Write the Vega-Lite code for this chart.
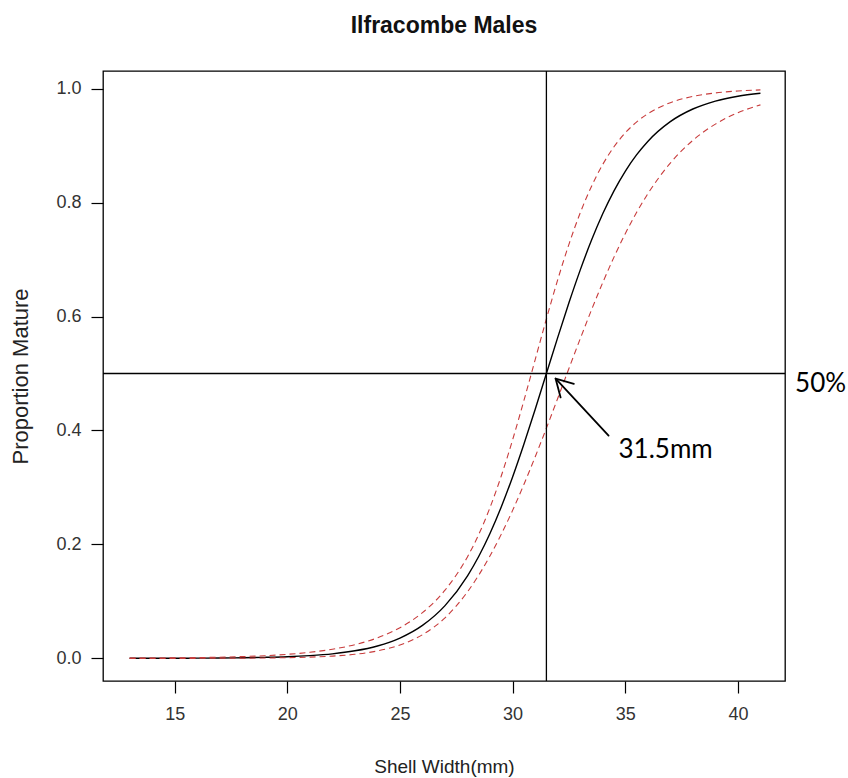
{
  "$schema": "https://vega.github.io/schema/vega-lite/v6.json",
  "width": 682,
  "height": 610,
  "autosize": {"type": "none"},
  "padding": {"left": 103, "top": 71, "right": 63, "bottom": 97},
  "background": "white",
  "title": {"text": "Ilfracombe Males", "font": "Liberation Sans", "fontSize": 23, "fontWeight": "bold", "color": "#111111", "anchor": "middle", "baseline": "alphabetic", "offset": 14},
  "config": {"view": {"stroke": "#000000", "strokeWidth": 1.3}},
  "datasets": {
    "curve": [
      {"x": 13, "fit": 0.0001, "lo": 0.00002, "up": 0.0004},
      {"x": 14, "fit": 0.00014, "lo": 0.00003, "up": 0.0006},
      {"x": 15, "fit": 0.0002, "lo": 0.00006, "up": 0.0009},
      {"x": 16, "fit": 0.0004, "lo": 0.0001, "up": 0.0014},
      {"x": 17, "fit": 0.0006, "lo": 0.0002, "up": 0.0021},
      {"x": 18, "fit": 0.0011, "lo": 0.0004, "up": 0.0032},
      {"x": 19, "fit": 0.0018, "lo": 0.0007, "up": 0.0047},
      {"x": 20, "fit": 0.0029, "lo": 0.0012, "up": 0.0071},
      {"x": 21, "fit": 0.0049, "lo": 0.0022, "up": 0.0107},
      {"x": 22, "fit": 0.008, "lo": 0.004, "up": 0.016},
      {"x": 23, "fit": 0.0133, "lo": 0.0072, "up": 0.0241},
      {"x": 24, "fit": 0.0218, "lo": 0.0131, "up": 0.036},
      {"x": 25, "fit": 0.0357, "lo": 0.0235, "up": 0.0538},
      {"x": 26, "fit": 0.0579, "lo": 0.0415, "up": 0.0803},
      {"x": 27, "fit": 0.0926, "lo": 0.0712, "up": 0.1197},
      {"x": 28, "fit": 0.145, "lo": 0.1169, "up": 0.1785},
      {"x": 28.5, "fit": 0.1793, "lo": 0.1463, "up": 0.2177},
      {"x": 29, "fit": 0.2196, "lo": 0.1802, "up": 0.2651},
      {"x": 29.5, "fit": 0.2662, "lo": 0.2181, "up": 0.3206},
      {"x": 30, "fit": 0.3185, "lo": 0.2598, "up": 0.3836},
      {"x": 30.5, "fit": 0.3759, "lo": 0.3052, "up": 0.4523},
      {"x": 31, "fit": 0.437, "lo": 0.3536, "up": 0.5241},
      {"x": 31.5, "fit": 0.5, "lo": 0.4041, "up": 0.5959},
      {"x": 32, "fit": 0.563, "lo": 0.4562, "up": 0.6643},
      {"x": 32.5, "fit": 0.6241, "lo": 0.5089, "up": 0.7268},
      {"x": 33, "fit": 0.6815, "lo": 0.5609, "up": 0.7818},
      {"x": 33.5, "fit": 0.7338, "lo": 0.6115, "up": 0.8284},
      {"x": 34, "fit": 0.7804, "lo": 0.6595, "up": 0.8669},
      {"x": 34.5, "fit": 0.8207, "lo": 0.7043, "up": 0.898},
      {"x": 35, "fit": 0.855, "lo": 0.7455, "up": 0.9224},
      {"x": 35.5, "fit": 0.8837, "lo": 0.7825, "up": 0.9414},
      {"x": 36, "fit": 0.9074, "lo": 0.8154, "up": 0.9559},
      {"x": 37, "fit": 0.9421, "lo": 0.8694, "up": 0.9754},
      {"x": 38, "fit": 0.9643, "lo": 0.9093, "up": 0.9864},
      {"x": 39, "fit": 0.9782, "lo": 0.9378, "up": 0.9925},
      {"x": 40, "fit": 0.9867, "lo": 0.9578, "up": 0.9959},
      {"x": 41, "fit": 0.992, "lo": 0.9715, "up": 0.9978}
    ],
    "arrow": [
      {"x": 34.26, "y": 0.391, "x2": 31.91, "y2": 0.491},
      {"x": 32.72, "y": 0.482, "x2": 31.91, "y2": 0.491},
      {"x": 32.13, "y": 0.458, "x2": 31.91, "y2": 0.491}
    ],
    "notes": [
      {"x": 43.67, "y": 0.482, "label": "50%"},
      {"x": 36.79, "y": 0.365, "label": "31.5mm"}
    ]
  },
  "layer": [
    {
      "data": {"name": "curve"},
      "mark": {"type": "line", "color": "#000000", "strokeWidth": 1.4, "interpolate": "monotone"},
      "encoding": {
        "x": {"field": "x", "type": "quantitative", "title": "Shell Width(mm)", "scale": {"domain": [11.82, 42.09], "nice": false, "zero": false},
          "axis": {"values": [15, 20, 25, 30, 35, 40], "grid": false, "domain": false, "tickSize": 12, "tickColor": "#000000", "tickWidth": 1.2,
            "labelFont": "Liberation Sans", "labelFontSize": 18, "labelColor": "#333333", "labelPadding": 12,
            "titleFont": "Liberation Sans", "titleFontSize": 19, "titleFontWeight": "normal", "titleColor": "#222222", "titlePadding": 34}},
        "y": {"field": "fit", "type": "quantitative", "title": "Proportion Mature", "scale": {"domain": [-0.0397, 1.031], "nice": false, "zero": false},
          "axis": {"values": [0, 0.2, 0.4, 0.6, 0.8, 1.0], "format": ".1f", "grid": false, "domain": false, "tickSize": 12, "tickColor": "#000000", "tickWidth": 1.2,
            "labelFont": "Liberation Sans", "labelFontSize": 18, "labelColor": "#333333", "labelPadding": 10,
            "titleFont": "Liberation Sans", "titleFontSize": 22, "titleFontWeight": "normal", "titleColor": "#222222", "titlePadding": 23}}
      }
    },
    {
      "data": {"name": "curve"},
      "mark": {"type": "line", "color": "#c83c3c", "strokeWidth": 1.1, "strokeDash": [6, 4], "interpolate": "monotone"},
      "encoding": {
        "x": {"field": "x", "type": "quantitative", "title": "Shell Width(mm)", "scale": {"domain": [11.82, 42.09], "nice": false, "zero": false}},
        "y": {"field": "lo", "type": "quantitative", "title": "Proportion Mature", "scale": {"domain": [-0.0397, 1.031], "nice": false, "zero": false}}
      }
    },
    {
      "data": {"name": "curve"},
      "mark": {"type": "line", "color": "#c83c3c", "strokeWidth": 1.1, "strokeDash": [6, 4], "interpolate": "monotone"},
      "encoding": {
        "x": {"field": "x", "type": "quantitative", "title": "Shell Width(mm)", "scale": {"domain": [11.82, 42.09], "nice": false, "zero": false}},
        "y": {"field": "up", "type": "quantitative", "title": "Proportion Mature", "scale": {"domain": [-0.0397, 1.031], "nice": false, "zero": false}}
      }
    },
    {
      "data": {"values": [{"x": 31.5}]},
      "mark": {"type": "rule", "color": "#000000", "strokeWidth": 1.3},
      "encoding": {
        "x": {"field": "x", "type": "quantitative", "title": "Shell Width(mm)", "scale": {"domain": [11.82, 42.09], "nice": false, "zero": false}}
      }
    },
    {
      "data": {"values": [{"y": 0.5}]},
      "mark": {"type": "rule", "color": "#000000", "strokeWidth": 1.3},
      "encoding": {
        "y": {"field": "y", "type": "quantitative", "title": "Proportion Mature", "scale": {"domain": [-0.0397, 1.031], "nice": false, "zero": false}}
      }
    },
    {
      "data": {"name": "arrow"},
      "mark": {"type": "rule", "color": "#000000", "strokeWidth": 1.8, "strokeCap": "round"},
      "encoding": {
        "x": {"field": "x", "type": "quantitative", "title": "Shell Width(mm)", "scale": {"domain": [11.82, 42.09], "nice": false, "zero": false}},
        "y": {"field": "y", "type": "quantitative", "title": "Proportion Mature", "scale": {"domain": [-0.0397, 1.031], "nice": false, "zero": false}},
        "x2": {"field": "x2"},
        "y2": {"field": "y2"}
      }
    },
    {
      "data": {"name": "notes"},
      "mark": {"type": "text", "font": "Lato", "fontSize": 26, "color": "#000000", "align": "center", "baseline": "middle"},
      "encoding": {
        "x": {"field": "x", "type": "quantitative", "title": "Shell Width(mm)", "scale": {"domain": [11.82, 42.09], "nice": false, "zero": false}},
        "y": {"field": "y", "type": "quantitative", "title": "Proportion Mature", "scale": {"domain": [-0.0397, 1.031], "nice": false, "zero": false}},
        "text": {"field": "label"}
      }
    }
  ]
}
